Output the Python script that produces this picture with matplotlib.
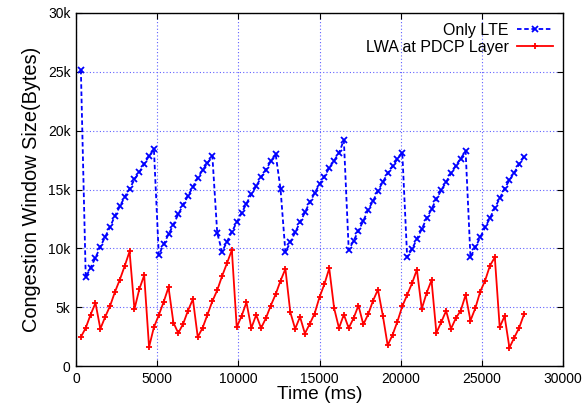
import matplotlib
matplotlib.use("Agg")
import matplotlib.pyplot as plt
from matplotlib.ticker import FixedLocator

plt.rcParams['font.family'] = ['Liberation Sans', 'DejaVu Sans']

time_ms = [300, 600, 900, 1200, 1500, 1800, 2100, 2400, 2700, 3000,
           3300, 3600, 3900, 4200, 4500, 4800, 5100, 5400, 5700, 6000,
           6300, 6600, 6900, 7200, 7500, 7800, 8100, 8400, 8700, 9000,
           9300, 9600, 9900, 10200, 10500, 10800, 11100, 11400, 11700, 12000,
           12300, 12600, 12900, 13200, 13500, 13800, 14100, 14400, 14700, 15000,
           15300, 15600, 15900, 16200, 16500, 16800, 17100, 17400, 17700, 18000,
           18300, 18600, 18900, 19200, 19500, 19800, 20100, 20400, 20700, 21000,
           21300, 21600, 21900, 22200, 22500, 22800, 23100, 23400, 23700, 24000,
           24300, 24600, 24900, 25200, 25500, 25800, 26100, 26400, 26700, 27000,
           27300, 27600]

only_lte = [25170, 7540, 8360, 9200, 10140, 10980, 11830, 12760, 13560, 14370,
            15050, 15850, 16470, 17170, 17850, 18420, 9430, 10340, 11190, 12000,
            12900, 13700, 14460, 15220, 15980, 16660, 17230, 17850, 11300, 9710,
            10560, 11400, 12200, 12990, 13810, 14580, 15280, 16020, 16690, 17400,
            17990, 15030, 9660, 10510, 11360, 12200, 13050, 13900, 14690, 15450,
            16100, 16830, 17460, 18100, 19200, 9860, 10640, 11490, 12340, 13270,
            14030, 14880, 15640, 16360, 16970, 17600, 18140, 9240, 9940, 10790,
            11640, 12540, 13330, 14180, 14940, 15640, 16360, 17030, 17630, 18270,
            9240, 10080, 10930, 11780, 12570, 13440, 14240, 15080, 15790, 16440,
            17140, 17800]

lwa_pdcp = [2460, 3240, 4370, 5360, 3160, 4180, 5110, 6300, 7340, 8500,
            9740, 4830, 6530, 7710, 1610, 3300, 4320, 5450, 6690, 3690,
            2800, 3580, 4710, 5680, 2460, 3250, 4370, 5510, 6440, 7650,
            8730, 9860, 3300, 4240, 5420, 3220, 4350, 3220, 4070, 5140,
            6100, 7250, 8250, 4580, 3160, 4180, 2760, 3580, 4460, 5850,
            6950, 8300, 4920, 3220, 4370, 3220, 4070, 5140, 3530, 4400,
            5560, 6490, 4290, 1750, 2650, 3780, 5080, 6040, 7030, 8190,
            4860, 6210, 7290, 2820, 3730, 4690, 3160, 4070, 4710, 6040,
            3860, 4920, 6320, 7250, 8530, 9240, 3300, 4240, 1550, 2420,
            3250, 4400]

x_ticks = [0, 5000, 10000, 15000, 20000, 25000, 30000]
x_tick_labels = ['0', '5000', '10000', '15000', '20000', '25000', '30000']
y_ticks = [0, 5000, 10000, 15000, 20000, 25000, 30000]
y_tick_labels = ['0', '5k', '10k', '15k', '20k', '25k', '30k']

fig = plt.figure(figsize=(5.86, 4.04), dpi=100)
ax = fig.add_axes([76 / 586, 38 / 404, 487 / 586, 353 / 404])

ax.plot(time_ms, only_lte, color='#0000ff', linestyle=(0, (2.5, 1.5)), linewidth=1.3,
        marker='x', markersize=4.5, markeredgewidth=1.3, label='Only LTE')
ax.plot(time_ms, lwa_pdcp, color='#ff0000', linestyle='-', linewidth=1.3,
        marker='+', markersize=4.5, markeredgewidth=1.3, label='LWA at PDCP Layer')

ax.set_xlim(0, 30000)
ax.set_ylim(0, 30000)
ax.xaxis.set_major_locator(FixedLocator(x_ticks))
ax.set_xticklabels(x_tick_labels)
ax.yaxis.set_major_locator(FixedLocator(y_ticks))
ax.set_yticklabels(y_tick_labels)

ax.grid(True, color='#6060ff', linestyle=(0, (1, 2)), linewidth=0.8)
ax.tick_params(direction='in', top=True, right=True, length=4, labelsize=10,
               colors='black', pad=4)
for s in ax.spines.values():
    s.set_linewidth(1.0)

ax.set_xlabel('Time (ms)', fontsize=13.8, labelpad=0)
ax.set_ylabel('Congestion Window Size(Bytes)', fontsize=14.4, labelpad=5)

ax.legend(loc='upper right', frameon=False, markerfirst=False, fontsize=11.5,
          handlelength=2.3, borderaxespad=0.3, labelspacing=0.15, handletextpad=0.5,
          borderpad=0.3)

fig.savefig('out.png', dpi=100)
